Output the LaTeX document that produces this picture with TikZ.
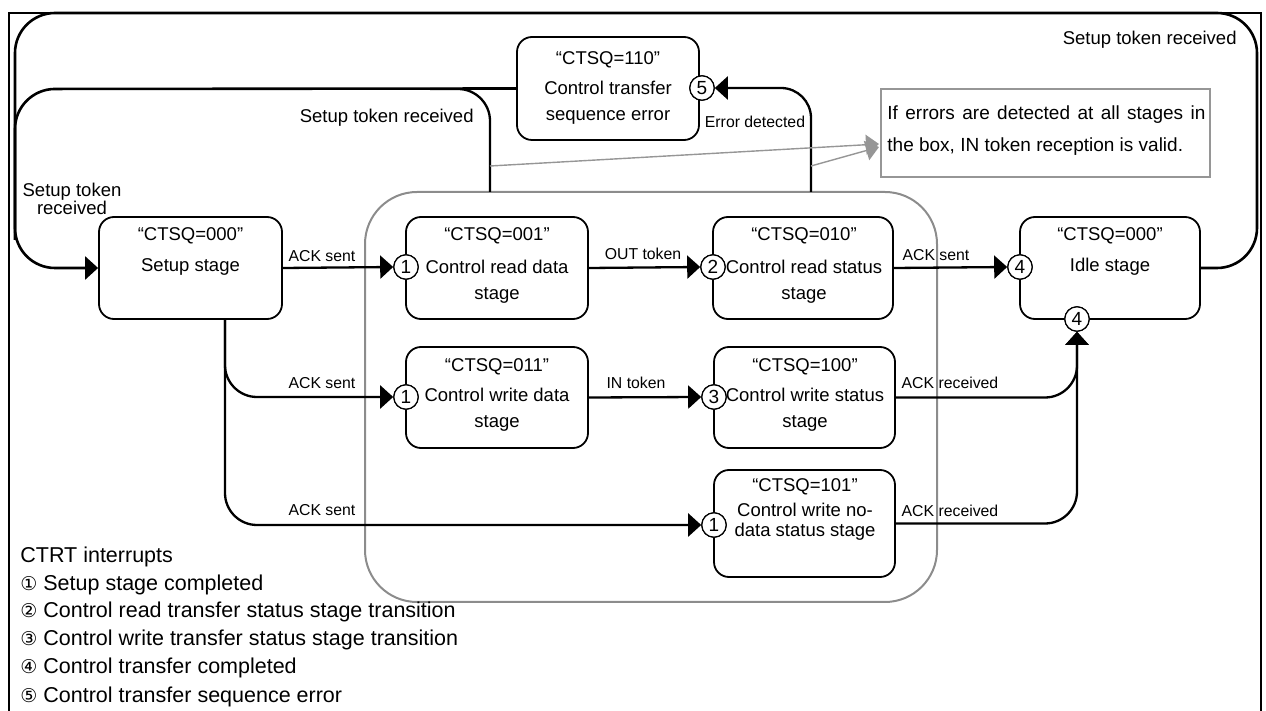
\documentclass[tikz,border=0pt]{standalone}
\usepackage{fontspec}
\setmainfont{Liberation Sans}
\newfontfamily\symfont{DejaVu Sans}
\usetikzlibrary{arrows.meta,fit}
\definecolor{grp}{RGB}{140,140,140}
\definecolor{notegray}{RGB}{150,150,150}
\begin{document}
\begin{tikzpicture}[x=0.5pt,y=-0.5pt,
  stagebox/.style={draw, line width=0.9pt, rounded corners=7.5pt, inner sep=0pt},
  groupbox/.style={draw=grp, line width=1pt, rounded corners=26pt, inner sep=0pt},
  notebox/.style={draw=notegray, line width=0.8pt, inner sep=0pt},
  num/.style={circle, draw, line width=0.6pt, fill=white, inner sep=0pt, minimum size=12.2pt, font=\fontsize{9.5}{9.5}\selectfont},
  conn/.style={line width=1.15pt, rounded corners=16pt},
  loopline/.style={line width=1.3pt, rounded corners=20pt},
  arr/.style={-{Triangle[length=6.5pt,width=11.5pt]}},
  grayarr/.style={draw=notegray, line width=0.7pt, -{Triangle[length=6.5pt,width=10pt]}, color=notegray},
  btxt/.style={font=\fontsize{9.25}{11}\selectfont, inner sep=0pt},
  lbl/.style={font=\fontsize{7.9}{9}\selectfont, inner sep=0pt},
  leg/.style={font=\fontsize{10.75}{13}\selectfont, inner sep=0pt, anchor=west},
]
\useasboundingbox (0,0) rectangle (1266,711);
% frame
\draw[line width=1pt] (9,720) -- (9,13) -- (1261,13) -- (1261,720);

% group box and note
\node[groupbox, fit={(365,192)(937,602)}] (grpbox) {};
\node[notebox, fit={(881,89)(1210,177)}] (note) {};
\node[btxt, anchor=west, font=\fontsize{9.5}{11}\selectfont] (nt1) at (887,115) {\makebox[159pt][s]{If errors are detected at all stages in}};
\node[btxt, anchor=west, font=\fontsize{9.5}{11}\selectfont] (nt2) at (887,147) {the box, IN token reception is valid.};

% stage boxes
\node[stagebox, fit={(99,217)(282,319)}] (setup) {};
\node[stagebox, fit={(406,217)(588,319)}] (rdata) {};
\node[stagebox, fit={(713,217)(893,319)}] (rstat) {};
\node[stagebox, fit={(1020,217)(1200,319)}] (idle) {};
\node[stagebox, fit={(406,347)(588,448)}] (wdata) {};
\node[stagebox, fit={(714,347)(895,448)}] (wstat) {};
\node[stagebox, fit={(714,470)(895,577)}] (nodata) {};
\node[stagebox, fit={(517,37)(699,140)}] (err) {};

% box texts
\node[btxt] (t1) at (190.5,236) {“CTSQ=000”};
\node[btxt] (t2) at (190.5,267) {Setup stage};
\node[btxt] (t3) at (497,236) {“CTSQ=001”};
\node[btxt] (t4) at (497,267) {Control read data};
\node[btxt] (t5) at (497,295) {stage};
\node[btxt] (t6) at (804,236) {“CTSQ=010”};
\node[btxt] (t7) at (804,267) {Control read status};
\node[btxt] (t8) at (804,295) {stage};
\node[btxt] (t9) at (1110,236) {“CTSQ=000”};
\node[btxt] (t10) at (1110,267) {Idle stage};
\node[btxt] (t11) at (497,367) {“CTSQ=011”};
\node[btxt] (t12) at (497,395) {Control write data};
\node[btxt] (t13) at (497,423) {stage};
\node[btxt] (t14) at (805,367) {“CTSQ=100”};
\node[btxt] (t15) at (805,395) {Control write status};
\node[btxt] (t16) at (805,423) {stage};
\node[btxt] (t17) at (805,487) {“CTSQ=101”};
\node[btxt] (t18) at (805,510) {Control write no-};
\node[btxt] (t19) at (805,532) {data status stage};
\node[btxt] (t20) at (608,60) {“CTSQ=110”};
\node[btxt] (t21) at (608,88) {Control transfer};
\node[btxt] (t22) at (608,117) {sequence error};

% interrupt circles (positions)
\node[num] (c1a) at (406,267) {1};
\node[num] (c2) at (713,267) {2};
\node[num] (c4a) at (1020,267) {4};
\node[num] (c4b) at (1077,319) {4};
\node[num] (c1b) at (406,397) {1};
\node[num] (c3) at (714,397) {3};
\node[num] (c1c) at (714,525) {1};
\node[num] (c5) at (702,88) {5};

% helper coordinates
\coordinate (sb) at (225,319);
\coordinate (g1) at (490,192);
\coordinate (g2) at (811,192);
\coordinate (ga1) at (490,166);
\coordinate (ga2) at (811,166);
\coordinate (nt) at (879,144);
\coordinate (ntb) at (879,147);

% outer loop: idle -> setup
\draw[loopline, arr] (idle.east) -- (1257,268) -- (1257,13) -- (15,13) -- (15,268) -- (setup.west);
% loop from error box and group box -> setup
\draw[loopline] (err.west) -- (15,89) -- (15,240);
\draw[conn] (g1) -- (490,89) -- (430,89);
% error detected
\draw[conn, rounded corners=15pt, arr] (g2) |- (c5.east);
% gray pointers
\draw[grayarr] (ga1) -- (nt);
\draw[grayarr] (ga2) -- (ntb);

% row connectors
\draw[conn, arr] (setup.east) -- (c1a.west);
\draw[conn, arr] (rdata.east) -- (c2.west);
\draw[conn, arr] (rstat.east) -- (c4a.west);
\draw[conn, arr] (sb) |- (c1b.west);
\draw[conn, arr] (sb) |- (c1c.west);
\draw[conn, arr] (wdata.east) -- (c3.west);
\draw[conn, arr] (wstat.east) -| (c4b.south);
\draw[conn, arr] (nodata.east) -| (c4b.south);

% redraw circles on top of connectors
\foreach \c/\t in {c1a/1,c2/2,c4a/4,c4b/4,c1b/1,c3/3,c1c/1,c5/5}{
  \node[num] at (\c) {\t};
}

% labels
\node[lbl] (l1) at (322,256) {ACK sent};
\node[lbl] (l2) at (322,383) {ACK sent};
\node[lbl] (l3) at (322,510) {ACK sent};
\node[lbl] (l4) at (643,254) {OUT token};
\node[lbl] (l5) at (636,383) {IN token};
\node[lbl] (l6) at (936,255) {ACK sent};
\node[lbl] (l7) at (950,383) {ACK received};
\node[lbl] (l8) at (950,511) {ACK received};
\node[lbl] (l9) at (755,122) {Error detected};
\node[btxt, anchor=east] (l10) at (474,118) {Setup token received};
\node[btxt, anchor=east] (l11) at (1237,40) {Setup token received};
\node[btxt, align=center, font=\fontsize{9.25}{9}\selectfont] (l12) at (72,199) {Setup token\\received};

% legend
\node[leg] (lg0) at (20,557) {CTRT interrupts};
\node[leg] (lg1) at (20,585) {{\symfont\fontsize{9.5}{9}\selectfont ①} Setup stage completed};
\node[leg] (lg2) at (20,612) {{\symfont\fontsize{9.5}{9}\selectfont ②} Control read transfer status stage transition};
\node[leg] (lg3) at (20,640) {{\symfont\fontsize{9.5}{9}\selectfont ③} Control write transfer status stage transition};
\node[leg] (lg4) at (20,668) {{\symfont\fontsize{9.5}{9}\selectfont ④} Control transfer completed};
\node[leg] (lg5) at (20,697) {{\symfont\fontsize{9.5}{9}\selectfont ⑤} Control transfer sequence error};
\end{tikzpicture}
\end{document}
